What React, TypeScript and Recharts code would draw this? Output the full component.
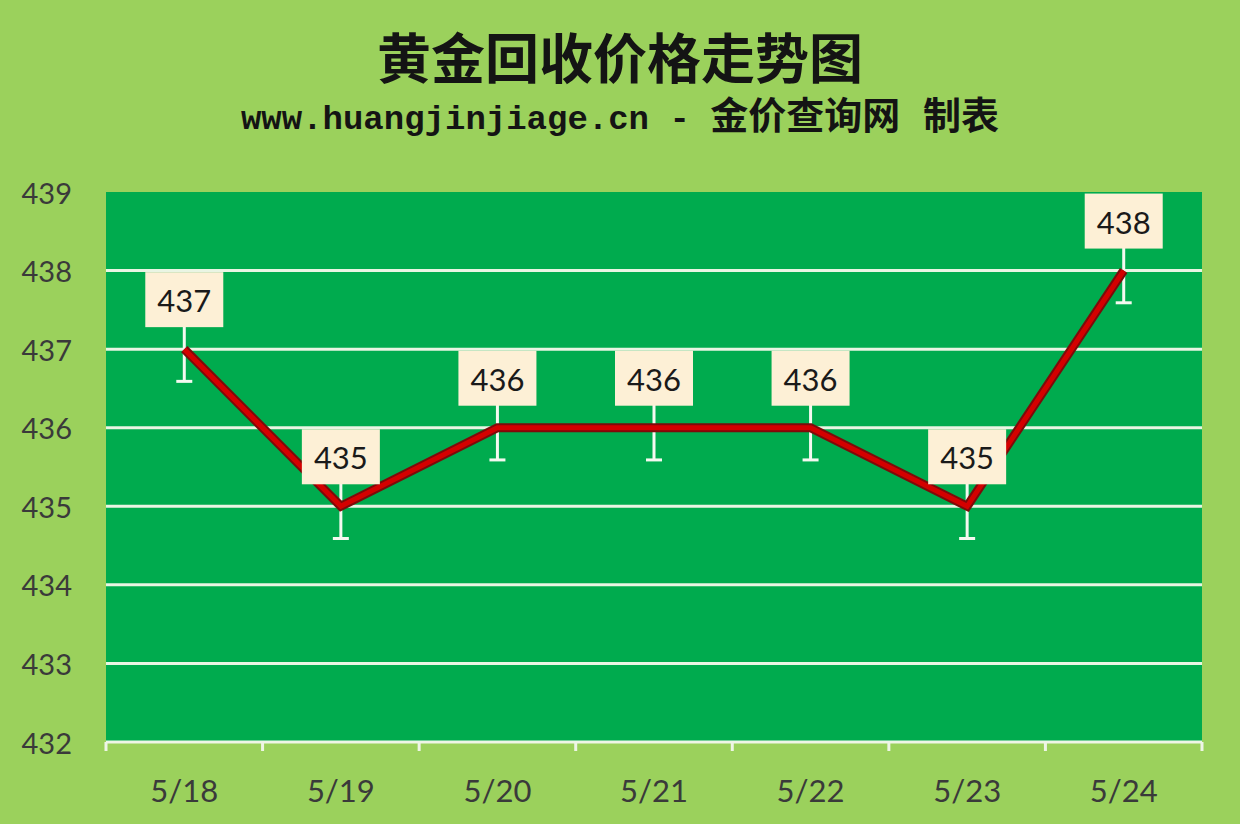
import { LineChart, Line, XAxis, YAxis, CartesianGrid, ErrorBar, LabelList } from 'recharts';

const dates = ['5/18', '5/19', '5/20', '5/21', '5/22', '5/23', '5/24'];
const prices = [437, 435, 436, 436, 436, 435, 438];
const errors = [0.41, 0.41, 0.41, 0.41, 0.41, 0.41, 0.41];
const yTicks = [432, 433, 434, 435, 436, 437, 438, 439];
const gridValues = [433, 434, 435, 436, 437, 438];

const data = dates.map((d, i) => ({ date: d, price: prices[i], err: errors[i] }));

const tickFont = 'Lato, "Open Sans", sans-serif';

function YTick({ x, y, payload }: any) {
  return (
    <text x={x} y={y} textAnchor="end" dominantBaseline="central" fontSize={29} fill="#3a3a3a" fontFamily={tickFont}>
      {payload.value}
    </text>
  );
}

function XTick({ x, y, payload, index }: any) {
  const half = payload.offset ?? 0;
  return (
    <g>
      <line x1={x - half} x2={x - half} y1={y} y2={y + 9} stroke="#eef5e6" strokeWidth={3} />
      {index === dates.length - 1 && (
        <line x1={x + half} x2={x + half} y1={y} y2={y + 9} stroke="#eef5e6" strokeWidth={3} />
      )}
      <text x={x} y={y + 48} textAnchor="middle" dominantBaseline="central" fontSize={31} fill="#3a3a3a" fontFamily={tickFont}>
        {payload.value}
      </text>
    </g>
  );
}

function PriceLabel({ x, y, value }: any) {
  return (
    <g>
      <rect x={x - 39} y={y - 77} width={78} height={55} fill="#fdf0d6" />
      <text x={x} y={y - 49} textAnchor="middle" dominantBaseline="central" fontSize={31} fill="#1a1a1a" fontFamily={tickFont}>
        {value}
      </text>
    </g>
  );
}

export default function App() {
  return (
    <div style={{ position: 'absolute', left: 0, top: 0, width: 1240, height: 824, background: '#9bd15c', overflow: 'hidden' }}>
      <div style={{
        position: 'absolute', left: 0, width: 1240, top: 20, textAlign: 'center',
        fontFamily: '"Noto Sans CJK SC", sans-serif', fontWeight: 700, fontSize: 54, lineHeight: '72px', color: '#141414',
      }}>
        黄金回收价格走势图
      </div>
      <div style={{
        position: 'absolute', left: 0, width: 1240, top: 96, textAlign: 'center',
        fontFamily: '"Liberation Mono", "Noto Sans CJK SC", monospace', fontWeight: 700, fontSize: 34, lineHeight: '46px', color: '#141414',
      }}>
        www.huangjinjiage.cn - <span style={{ fontSize: 38 }}>金价查询网 制表</span>
      </div>
      <div style={{ position: 'absolute', left: 0, top: 0 }}>
        <LineChart width={1240} height={824} data={data} margin={{ top: 192, right: 38, bottom: 0, left: 0 }}>
          <CartesianGrid
            horizontal
            vertical={false}
            horizontalValues={gridValues}
            stroke="#e9f5e3"
            strokeWidth={3}
            fill="#00ab4e"
            fillOpacity={1}
          />
          <XAxis
            dataKey="date"
            scale="band"
            tick={<XTick />}
            tickLine={false}
            tickSize={0}
            tickMargin={0}
            axisLine={{ stroke: '#eef5e6', strokeWidth: 3 }}
            height={82}
            interval={0}
          />
          <YAxis
            domain={[432, 439]}
            ticks={yTicks}
            width={106}
            tick={<YTick />}
            tickLine={false}
            axisLine={false}
            tickSize={0}
            tickMargin={34}
            interval={0}
          />
          <Line dataKey="price" stroke="#7d0a0a" strokeWidth={9} dot={false} isAnimationActive={false}>
            <ErrorBar dataKey="err" direction="y" width={8} stroke="#f4f9f0" strokeWidth={3} />
          </Line>
          <Line dataKey="price" stroke="#d40000" strokeWidth={5} dot={false} isAnimationActive={false}>
            <LabelList dataKey="price" content={<PriceLabel />} />
          </Line>
        </LineChart>
      </div>
    </div>
  );
}
